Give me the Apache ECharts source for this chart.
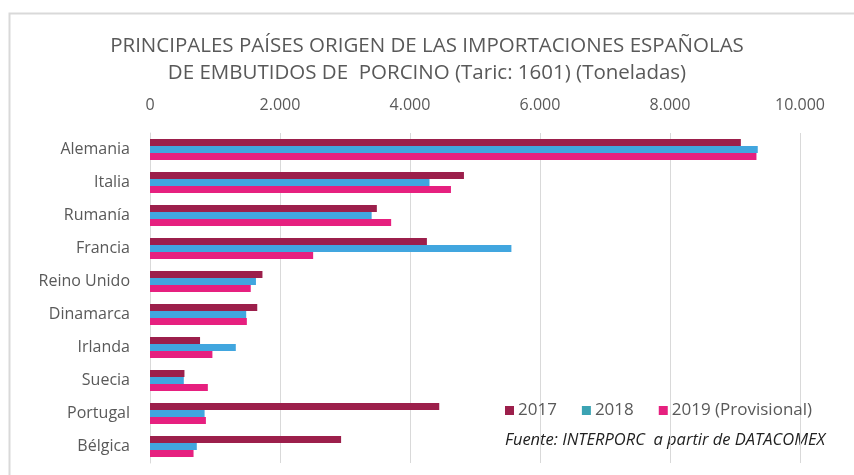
<!DOCTYPE html>
<html>
<head>
<meta charset="utf-8">
<script src="https://cdn.jsdelivr.net/npm/echarts@6/dist/echarts.min.js"></script>
<style>
  html, body { margin: 0; padding: 0; background: #ffffff; }
  #chart { width: 854px; height: 475px; }
</style>
</head>
<body>
<div id="chart"></div>
<script>
// Countries, listed top to bottom
const countries = ['Alemania', 'Italia', 'Rumanía', 'Francia', 'Reino Unido', 'Dinamarca', 'Irlanda', 'Suecia', 'Portugal', 'Bélgica'];

// Imports in tonnes per year
const values2017 = [9090, 4830, 3490, 4260, 1730, 1650, 770, 530, 4450, 2940];
const values2018 = [9350, 4300, 3410, 5560, 1630, 1480, 1320, 520, 840, 720];
const values2019 = [9330, 4630, 3710, 2510, 1550, 1490, 960, 890, 860, 670];

const seriesNames = ['2017', '2018', '2019 (Provisional)'];
const seriesColors = ['#9c1f4b', '#41a6df', '#e6207f'];
const legendColors = ['#9c1f4b', '#3ba3b3', '#e6207f'];

const axisTicks = [0, 2000, 4000, 6000, 8000, 10000];

const titleLines = [
  'PRINCIPALES PAÍSES ORIGEN DE LAS IMPORTACIONES ESPAÑOLAS',
  'DE EMBUTIDOS DE  PORCINO (Taric: 1601) (Toneladas)'
];
const sourceText = 'Fuente: INTERPORC  a partir de DATACOMEX';

const FONT = '"Open Sans", "Noto Sans", sans-serif';
const TEXT_GRAY = '#595959';

function fmt(v) {
  return String(v).replace(/\B(?=(\d{3})+(?!\d))/g, '.');
}

const chart = echarts.init(document.getElementById('chart'), null, { renderer: 'canvas' });

const allSeries = [values2017, values2018, values2019].map((vals, i) => ({
  name: seriesNames[i],
  type: 'bar',
  data: vals,
  barWidth: 7,
  barGap: '0%',
  itemStyle: { color: seriesColors[i] },
  emphasis: { disabled: true }
}));

chart.setOption({
  animation: false,
  backgroundColor: '#ffffff',
  graphic: [
    {
      type: 'rect',
      shape: { x: 9.5, y: 13.5, width: 860, height: 470 },
      style: { fill: 'none', stroke: '#d9d9d9', lineWidth: 2 },
      silent: true
    },
    {
      type: 'text',
      left: 'center',
      top: 33,
      style: {
        text: titleLines.join('\n'),
        font: '20.5px ' + FONT,
        fill: TEXT_GRAY,
        textAlign: 'center',
        lineHeight: 27
      }
    },
    {
      type: 'text',
      left: 505,
      top: 432,
      style: {
        text: sourceText,
        font: 'italic 16.5px ' + FONT,
        fill: '#222222'
      }
    }
  ],
  legend: {
    data: seriesNames.map((n, i) => ({ name: n, itemStyle: { color: legendColors[i] } })),
    left: 500,
    top: 397,
    itemWidth: 9,
    itemHeight: 9,
    itemGap: 25,
    icon: 'rect',
    textStyle: { color: TEXT_GRAY, fontSize: 17, fontFamily: FONT, padding: [0, 0, 0, -1] },
    selectedMode: false
  },
  grid: {
    left: 150,
    right: 54,
    top: 133,
    bottom: 12,
    containLabel: false
  },
  xAxis: {
    type: 'value',
    position: 'top',
    min: 0,
    max: 10000,
    interval: 2000,
    axisLine: { show: false },
    axisTick: { show: false },
    axisLabel: {
      color: TEXT_GRAY,
      fontSize: 16,
      fontFamily: FONT,
      margin: 20,
      formatter: v => axisTicks.includes(v) ? fmt(v) : ''
    },
    splitLine: { lineStyle: { color: '#d9d9d9', width: 1 } }
  },
  yAxis: {
    type: 'category',
    inverse: true,
    data: countries,
    axisLine: { show: true, lineStyle: { color: '#d9d9d9' } },
    axisTick: { show: false },
    axisLabel: {
      color: TEXT_GRAY,
      fontSize: 16,
      fontFamily: FONT,
      margin: 20
    }
  },
  series: allSeries
});
</script>
</body>
</html>
